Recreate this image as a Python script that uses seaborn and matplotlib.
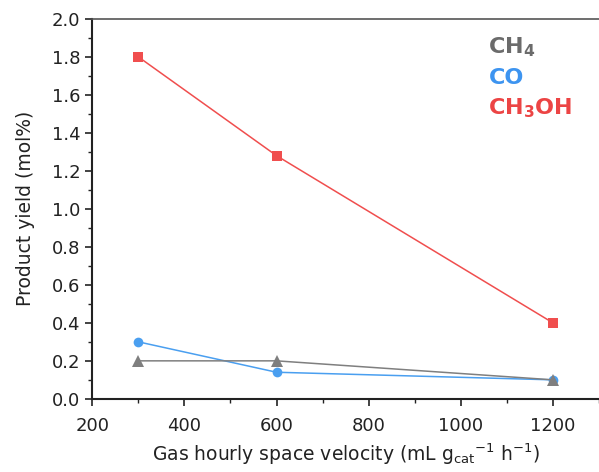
import pandas as pd
import matplotlib.pyplot as plt
from matplotlib.ticker import MultipleLocator
import seaborn as sns

# Data
ghsv = [300, 600, 1200]
ch4_yield = [0.20, 0.20, 0.10]
co_yield = [0.30, 0.14, 0.10]
ch3oh_yield = [1.80, 1.28, 0.40]

series_names = ["CH4", "CO", "CH3OH"]
series_labels = [r"CH$_4$", "CO", r"CH$_3$OH"]
line_colors = ["#7f7f7f", "#4a9ff0", "#f04e4e"]
text_colors = ["#6b6b6b", "#3d94f0", "#ec4444"]
markers = ["^", "o", "s"]
marker_sizes = [8.5, 7, 7]

df = pd.DataFrame({
    "GHSV": ghsv * 3,
    "Yield": ch4_yield + co_yield + ch3oh_yield,
    "Product": [n for n in series_names for _ in ghsv],
})

sns.set_style("ticks")
plt.rcParams["font.family"] = ["DejaVu Sans"]
plt.rcParams["mathtext.default"] = "regular"

fig = plt.figure(figsize=(5.99, 4.72), dpi=100)
ax = fig.add_axes([0.154, 0.155, 0.846, 0.805])

# CO first so the CH4 triangle sits on top at 1200
for i in [1, 0, 2]:
    sns.lineplot(data=df[df["Product"] == series_names[i]], x="GHSV", y="Yield",
                 color=line_colors[i], marker=markers[i], markersize=marker_sizes[i],
                 markeredgewidth=0, linewidth=1.1, ax=ax)

ax.set_xlim(200, 1300)
ax.set_ylim(0, 2.0)
ax.xaxis.set_major_locator(MultipleLocator(200))
ax.xaxis.set_minor_locator(MultipleLocator(100))
ax.yaxis.set_major_locator(MultipleLocator(0.2))
ax.yaxis.set_minor_locator(MultipleLocator(0.1))
ax.yaxis.set_major_formatter(plt.FuncFormatter(lambda v, p: f"{v:.1f}"))
ax.tick_params(which="major", length=5, width=1.2, labelsize=13, colors="#222222")
ax.tick_params(which="minor", length=3, width=1.0, colors="#222222")
ax.tick_params(axis="x", pad=8)

for side in ["left", "bottom"]:
    ax.spines[side].set_linewidth(1.5)
    ax.spines[side].set_color("#222222")
ax.spines["top"].set_linewidth(1.2)
ax.spines["top"].set_color("#555555")
ax.spines["right"].set_visible(False)

ax.set_xlabel(r"Gas hourly space velocity (mL g$_{cat}$$^{-1}$ h$^{-1}$)",
              fontsize=13.5, color="#222222", labelpad=5)
ax.set_ylabel("Product yield (mol%)", fontsize=13.5, color="#222222", labelpad=12)

ys = [1.85, 1.69, 1.53]
for lab, c, y in zip(series_labels, text_colors, ys):
    ax.text(1060, y, lab, color=c, fontsize=16, fontweight="bold",
            va="center", ha="left")

plt.savefig("out.png", dpi=100)
plt.close()
